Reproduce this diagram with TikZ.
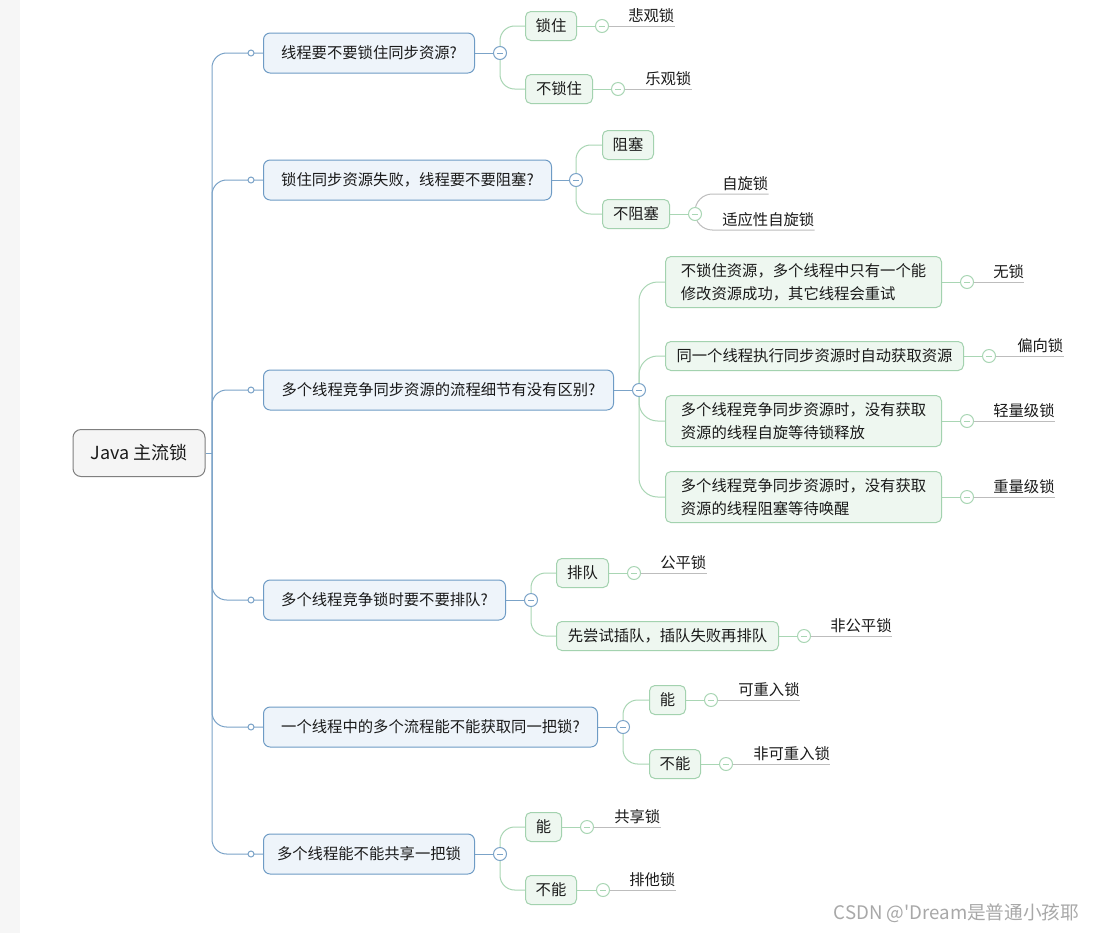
\documentclass[tikz,border=0pt]{standalone}
\usepackage{fontspec}
\setmainfont{Noto Sans CJK SC}
\usetikzlibrary{backgrounds}
\definecolor{bluel}{HTML}{7BA3C8}
\definecolor{bluefill}{HTML}{EEF4FA}
\definecolor{blueborder}{HTML}{6E9BC5}
\definecolor{greenl}{HTML}{A9D6B4}
\definecolor{greenfill}{HTML}{EEF7F0}
\definecolor{greenborder}{HTML}{A3D2AF}
\definecolor{leafline}{HTML}{BDBDBD}
\definecolor{rootfill}{HTML}{F5F5F5}
\definecolor{rootborder}{HTML}{7F7F7F}
\definecolor{textc}{HTML}{1A1A1A}
\definecolor{stripc}{HTML}{F6F6F6}
\definecolor{wmc}{HTML}{A8A8A8}
\tikzset{
  rootbox/.style={draw=rootborder, fill=rootfill, rounded corners=6pt, line width=0.75pt,
    minimum width={132*0.75pt}, minimum height={47*0.75pt}, inner sep=0pt,
    font=\fontsize{13.5}{16}\selectfont},
  lvone/.style={draw=blueborder, fill=bluefill, rounded corners=5pt, line width=0.75pt,
    minimum height={40*0.75pt}, anchor=west, inner sep=0pt},
  lvtwo/.style={draw=greenborder, fill=greenfill, rounded corners=4pt, line width=0.75pt,
    minimum height={29*0.75pt}, anchor=west, inner sep=0pt},
  tallbox/.style={minimum height={51*0.75pt}, align=left},
  wd/.style={minimum width={#1*0.75pt}},
  dotc/.style={circle, draw=bluel, fill=white, line width=0.75pt,
    minimum size={6*0.75pt}, inner sep=0pt},
  tog/.style={circle, draw=#1, fill=white, line width=0.75pt,
    minimum size={13*0.75pt}, inner sep=0pt,
    path picture={\draw[#1, line width=0.5pt]
      ([xshift=-2.4pt]path picture bounding box.center) --
      ([xshift=2.4pt]path picture bounding box.center);}},
  leaf/.style={anchor=south west, inner xsep=0pt, inner ysep=2.5pt},
  conb/.style={draw=bluel, line width=0.75pt},
  cong/.style={draw=greenl, line width=0.75pt},
  conl/.style={draw=leafline, line width=0.75pt},
}
\begin{document}
\begin{tikzpicture}[x=0.75pt, y=-0.75pt, font=\fontsize{11.5}{17}\selectfont, text=textc]
\useasboundingbox (0,0) rectangle (1099,933);

% root
\node[rootbox] (root) at (139,453) {Java 主流锁};
\coordinate (trunk) at (212,453);

% level one
\node[lvone, wd=211] (b1) at (263,53) {线程要不要锁住同步资源?};
\node[lvone, wd=288] (b2) at (263,180) {锁住同步资源失败，线程要不要阻塞?};
\node[lvone, wd=350] (b3) at (263,390) {多个线程竞争同步资源的流程细节有没有区别?};
\node[lvone, wd=242] (b4) at (263,600) {多个线程竞争锁时要不要排队?};
\node[lvone, wd=334] (b5) at (263,727) {一个线程中的多个流程能不能获取同一把锁?};
\node[lvone, wd=211] (b6) at (263,854) {多个线程能不能共享一把锁};

\foreach \i/\y in {1/53,2/180,3/390,4/600,5/727,6/854}
  \node[dotc] (d\i) at (251,\y) {};

\node[tog=bluel] (t1) at (500,53) {};
\node[tog=bluel] (t2) at (576,180) {};
\node[tog=bluel] (t3) at (639,390) {};
\node[tog=bluel] (t4) at (531,600) {};
\node[tog=bluel] (t5) at (623,727) {};
\node[tog=bluel] (t6) at (500,854) {};

% level two
\node[lvtwo, wd=51] (k11) at (525,26) {锁住};
\node[lvtwo, wd=67] (k12) at (525,89) {不锁住};
\node[lvtwo, wd=51] (k21) at (602,145) {阻塞};
\node[lvtwo, wd=67] (k22) at (602,214) {不阻塞};
\node[lvtwo, tallbox, wd=276] (k31) at (665,282) {不锁住资源，多个线程中只有一个能\\修改资源成功，其它线程会重试};
\node[lvtwo, wd=298] (k32) at (665,356) {同一个线程执行同步资源时自动获取资源};
\node[lvtwo, tallbox, wd=276] (k33) at (665,421) {多个线程竞争同步资源时，没有获取\\资源的线程自旋等待锁释放};
\node[lvtwo, tallbox, wd=276] (k34) at (665,497) {多个线程竞争同步资源时，没有获取\\资源的线程阻塞等待唤醒};
\node[lvtwo, wd=52] (k41) at (556,573) {排队};
\node[lvtwo, wd=222] (k42) at (556,636) {先尝试插队，插队失败再排队};
\node[lvtwo, wd=36] (k51) at (649,700) {能};
\node[lvtwo, wd=51] (k52) at (649,764) {不能};
\node[lvtwo, wd=36] (k61) at (525,827) {能};
\node[lvtwo, wd=51] (k62) at (525,890) {不能};

% leaf toggles
\node[tog=greenl] (t11) at (602,26) {};
\node[tog=greenl] (t12) at (618,89) {};
\node[tog=greenl] (t22) at (695,214) {};
\node[tog=greenl] (t31) at (967,282) {};
\node[tog=greenl] (t32) at (989,356) {};
\node[tog=greenl] (t33) at (967,421) {};
\node[tog=greenl] (t34) at (967,497) {};
\node[tog=greenl] (t41) at (634,573) {};
\node[tog=greenl] (t42) at (804,636) {};
\node[tog=greenl] (t51) at (711,700) {};
\node[tog=greenl] (t52) at (726,764) {};
\node[tog=greenl] (t61) at (587,827) {};
\node[tog=greenl] (t62) at (603,890) {};

% leaves
\node[leaf] (l11) at (628,26) {悲观锁};
\node[leaf] (l12) at (645,89) {乐观锁};
\node[leaf] (l221) at (722,194) {自旋锁};
\node[leaf] (l222) at (722,230) {适应性自旋锁};
\node[leaf] (l31) at (993,282) {无锁};
\node[leaf] (l32) at (1017,356) {偏向锁};
\node[leaf] (l33) at (993,421) {轻量级锁};
\node[leaf] (l34) at (993,497) {重量级锁};
\node[leaf] (l41) at (660,573) {公平锁};
\node[leaf] (l42) at (830,636) {非公平锁};
\node[leaf] (l51) at (738,700) {可重入锁};
\node[leaf] (l52) at (753,764) {非可重入锁};
\node[leaf] (l61) at (614,827) {共享锁};
\node[leaf] (l62) at (629,890) {排他锁};

\node[anchor=east, text=wmc, font=\fontsize{14}{16}\selectfont] (wm) at (1084,913) {CSDN @\textquotesingle Dream是普通小孩耶};

\begin{pgfonlayer}{background}
  \fill[white] (0,0) rectangle (1099,933);
  \fill[stripc] (0,0) rectangle (20,933);
  \draw[conb] (root.east) -- (trunk);
  \foreach \i in {1,...,6} {
    \draw[conb, rounded corners=11pt] (trunk) |- (b\i.west);
    \draw[conb] (b\i.east) -- (t\i.center);
  }
  \foreach \a/\b in {1/1,1/2,2/1,2/2,4/1,4/2,5/1,5/2,6/1,6/2}
    \draw[cong, rounded corners=11pt] (t\a.center) |- (k\a\b.west);
  \foreach \b in {1,...,4}
    \draw[cong, rounded corners=14pt] (t3.center) |- (k3\b.west);
  \foreach \n in {11,12,22,31,32,33,34,41,42,51,52,61,62}
    \draw[cong] (k\n.east) -- (t\n.center);
  \foreach \n in {11,12,31,32,33,34,41,42,51,52,61,62}
    \draw[conl] (t\n.center) -- (l\n.south east);
  \draw[conl, rounded corners=13pt] (t22.center) |- (l221.south east);
  \draw[conl, rounded corners=13pt] (t22.center) |- (l222.south east);
\end{pgfonlayer}
\end{tikzpicture}
\end{document}
